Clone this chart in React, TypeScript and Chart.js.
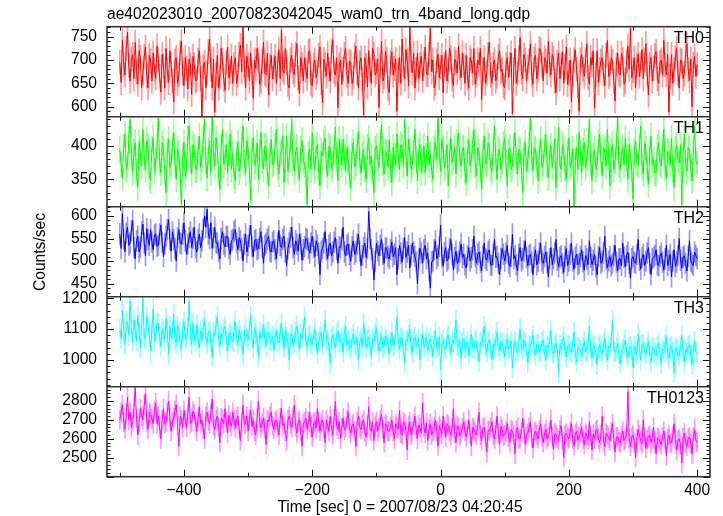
import React, { useEffect, useRef } from "react";
import { Chart, registerables } from "chart.js";

Chart.register(...registerables);

// Time grid of the light curve (seconds from 2007/08/23 04:20:45)
const T_START = -500;
const T_BIN = 2;

// Count rates (counts/sec), one row per 60 s
const TH0 = [
  695,652,742,690,668,725,760,688,655,702,712,660,738,675,648,720,705,640,672,708,728,665,640,710,698,655,715,680,662,730,
  700,665,631,712,688,640,725,678,652,720,690,655,610,698,705,650,668,715,740,672,645,705,682,638,702,690,626,708,690,655,
  658,700,720,660,578,685,695,640,672,718,745,680,640,702,588,668,710,640,662,725,700,658,635,695,728,662,675,708,650,690,
  705,650,668,712,732,675,770,690,640,708,690,655,715,672,618,700,682,725,700,648,655,698,738,672,668,715,625,688,710,660,
  685,708,650,690,722,660,765,680,672,725,695,648,640,700,710,675,668,712,735,662,628,705,690,655,705,678,660,718,720,650,
  645,690,700,662,675,710,728,652,608,702,690,665,715,680,655,720,742,675,668,705,598,690,700,648,680,712,725,668,650,698,
  695,650,662,710,730,672,640,695,705,660,582,705,688,642,720,680,650,725,712,668,675,702,598,688,740,655,665,718,700,640,
  630,695,718,668,682,702,590,678,705,650,745,690,660,722,698,645,770,700,672,715,640,680,715,660,690,708,655,692,728,670,
  668,712,768,675,700,640,650,698,712,662,685,710,630,690,720,655,678,725,705,660,645,702,695,672,730,685,662,715,688,650,
  710,662,640,705,698,672,725,648,668,700,690,725,615,680,705,650,672,712,738,668,650,690,700,655,665,708,720,675,680,645,
  640,690,705,662,690,715,585,680,725,650,672,705,748,675,660,712,700,655,685,698,735,668,648,702,710,660,678,725,722,690,
  655,705,698,672,740,690,668,712,705,655,630,695,715,660,688,718,650,685,728,648,672,700,610,668,700,722,680,645,590,700,
  712,680,665,700,735,662,648,705,690,720,598,668,720,652,680,698,705,670,645,710,742,665,670,705,698,655,612,690,715,672,
  668,715,700,648,655,698,730,680,768,662,678,705,640,690,712,665,690,722,660,700,735,672,625,690,705,655,682,710,718,660,
  650,695,700,668,742,690,668,712,588,665,712,650,680,705,725,672,640,700,698,660,670,712,735,680,655,702,600,690,708,665,
  690,
];
const TH1 = [
  395,372,352,398,418,365,372,410,440,385,360,392,405,360,338,405,390,370,425,382,365,408,400,355,348,395,412,362,378,400,
  442,375,360,405,395,362,330,392,410,368,375,400,420,372,350,395,388,360,312,385,405,355,370,412,430,380,358,402,398,365,
  365,395,415,368,380,410,440,378,352,392,408,360,443,388,370,412,395,358,335,398,425,372,382,402,360,390,418,365,390,355,
  348,388,405,362,372,402,430,375,360,408,395,365,318,392,412,370,378,405,350,390,420,378,366,400,398,362,340,385,410,372,
  375,400,425,370,358,388,392,415,345,380,415,362,380,402,440,375,362,392,398,368,350,395,408,380,372,358,312,388,395,365,
  420,378,365,395,402,360,340,392,385,405,412,372,355,400,398,365,372,395,428,380,348,410,390,372,410,385,362,398,380,355,
  338,392,405,368,375,400,422,378,360,385,395,365,350,398,412,372,385,360,330,395,400,380,368,405,432,375,358,392,390,368,
  410,365,345,398,385,372,418,385,365,402,398,370,440,388,355,410,392,365,372,395,425,380,348,392,402,360,378,400,360,385,
  415,372,388,365,350,395,405,380,443,392,362,410,395,368,375,402,340,388,412,375,385,398,358,405,420,382,370,395,398,362,
  345,392,408,370,380,402,425,372,355,398,390,365,335,388,415,375,372,405,400,368,362,392,430,385,350,395,392,365,378,402,
  412,375,340,392,398,365,370,400,420,378,358,395,392,370,330,388,405,362,380,402,442,385,362,398,395,372,348,390,410,368,
  375,398,418,372,352,388,400,368,385,410,338,385,428,372,365,402,395,365,350,390,412,368,375,395,310,378,398,365,420,388,
  360,392,405,368,382,400,440,375,348,385,395,365,372,405,418,380,355,398,390,370,425,385,340,392,402,365,378,402,443,372,
  365,388,398,372,412,380,350,402,385,365,320,392,408,375,372,398,430,370,358,405,395,368,342,390,415,372,380,360,360,398,
  405,375,370,398,425,368,352,392,390,372,412,365,338,395,400,380,375,402,312,385,418,372,362,398,395,368,348,390,430,378,
  372,
];
const TH2 = [
  560,528,605,550,520,562,575,535,540,568,590,530,505,545,555,520,530,565,582,540,512,572,548,535,570,542,525,558,560,532,
  535,560,580,542,510,538,555,570,592,548,522,565,548,528,500,552,570,540,538,560,585,545,515,538,552,565,530,550,575,530,
  520,548,560,530,545,570,600,575,615,560,550,585,528,552,575,540,540,522,505,550,565,538,532,555,555,528,515,545,548,565,
  570,540,525,552,545,528,500,538,560,520,535,555,580,532,510,545,548,525,528,550,565,530,495,535,540,548,555,522,520,542,
  545,525,505,540,568,535,530,548,555,520,490,528,540,552,575,530,515,545,538,522,560,538,502,525,532,550,548,528,518,540,
  555,530,510,545,535,518,470,522,528,540,565,525,505,535,540,512,520,542,552,525,495,532,530,548,575,520,512,535,538,515,
  500,532,545,515,520,538,560,522,490,512,530,540,508,528,610,550,525,505,458,500,540,522,512,535,548,515,495,530,528,510,
  505,525,542,510,515,530,470,505,535,518,498,528,552,508,520,535,485,512,540,520,510,498,450,505,528,518,495,525,535,505,
  518,480,440,498,500,525,545,505,512,532,580,510,490,518,530,500,505,528,548,515,480,508,522,495,500,520,538,508,515,492,
  485,512,530,500,508,525,555,510,495,515,520,498,478,512,540,505,502,520,525,492,490,515,548,508,510,495,470,505,528,515,
  500,518,535,495,488,510,560,505,512,492,478,515,530,500,505,522,545,508,490,512,515,498,470,508,525,492,500,518,540,500,
  495,510,520,498,465,505,530,492,505,518,548,502,488,508,512,495,475,510,528,490,500,515,540,500,482,508,515,492,495,510,
  525,498,480,512,505,492,545,508,492,502,515,488,470,510,530,495,500,518,555,505,485,500,510,490,495,512,535,498,478,505,
  505,490,540,508,488,512,520,495,462,505,510,498,495,515,548,502,482,508,515,490,500,518,530,495,470,505,508,512,525,492,
  490,510,518,498,480,505,535,490,502,515,465,500,525,488,498,512,550,502,485,508,512,495,478,510,545,500,495,490,520,512,
  505,
];
const TH3 = [
  1100,1070,1160,1095,1050,1125,1120,1080,1190,1105,1060,1130,1095,1062,1145,1090,1040,1115,1200,1068,1075,1140,1110,1075,1030,1098,1165,1060,1085,1120,
  1120,1072,1045,1100,1090,1065,1135,1088,1020,1110,1070,1095,1150,1068,1055,1112,1095,1058,1035,1098,1125,1075,1065,1105,1190,1082,1050,1118,1080,1060,
  1115,1068,1040,1095,1070,1105,1130,1072,1055,1088,1095,1060,1010,1092,1080,1115,1140,1070,1045,1085,1075,1100,1110,1062,1030,1082,1090,1070,1060,1098,
  1125,1075,1050,1098,1080,1062,1020,1085,1100,1072,1065,1095,1145,1068,1040,1105,1085,1058,1010,1090,1070,1080,1115,1070,1045,1092,1090,1065,1060,1078,
  1030,1070,1095,1062,1055,1088,1120,1065,1040,1095,1075,1058,1000,1080,1085,1050,1060,1092,1110,1068,1035,1085,1070,1098,1140,1062,1045,1075,1080,1055,
  1050,1078,1100,1062,1020,1058,1075,1090,1045,1082,1130,1065,1060,1045,990,1070,1080,1055,1040,1085,1095,1060,1055,1072,1025,1088,1110,1050,1065,1042,
  1035,1068,1085,1052,1050,1075,1000,1060,1070,1045,1120,1080,1040,1065,1075,1048,1010,1070,1060,1085,1105,1055,1030,1062,1080,1040,1045,1078,1065,1050,
  1020,1062,1090,1045,1050,1080,1140,1058,1035,1072,1070,1040,990,1065,1060,1082,1100,1048,1025,1068,1075,1052,1045,1070,1000,1058,1085,1042,1055,1075,
  1030,1055,1070,1045,1010,1062,1095,1040,1045,1075,970,1052,1065,1040,1035,1068,1080,1050,1020,1062,1055,1078,1130,1048,1040,1065,1005,1055,1070,1038,
  1045,1060,1015,1048,1085,1040,1035,1065,1060,1030,995,1058,1050,1072,1110,1045,1025,1058,1065,1035,1000,1052,1040,1065,1090,1042,1030,1060,1055,1038,
  1010,1050,1070,1035,1040,1062,975,1042,1060,1030,1025,1055,1100,1040,1035,1065,1055,1028,990,1048,1045,1060,1080,1035,1015,1052,1050,1028,1030,1058,
  1065,1030,1000,1048,1040,1060,1095,1025,1020,1045,1055,1032,960,1050,1035,1058,1075,1028,1010,1045,1050,1032,1025,1055,1090,1020,995,1042,1040,1030,
  1015,1042,1060,1028,1030,1050,1110,1035,1005,1048,1045,1022,985,1040,1050,1030,1020,1052,1070,1025,1000,1045,1040,1062,1130,1030,1025,1040,1055,1020,
  990,1028,1035,1050,1065,1022,1010,1040,1045,1030,975,1045,1030,1018,1085,1035,1000,1052,1050,1025,1020,1040,1060,1018,995,1038,1040,1022,1015,1045,
  1055,1022,990,1035,1030,1048,1075,1020,1005,1038,1045,1025,960,1042,1035,1015,1015,1040,1080,1028,995,1035,1025,1045,1050,1018,985,1032,1060,1025,
  1020,
];
const TH0123 = [
  2700,2740,2780,2690,2650,2735,2820,2700,2740,2660,2690,2760,2870,2710,2620,2680,2760,2720,2700,2780,2840,2690,2650,2740,2730,2705,2680,2750,2790,2680,
  2720,2660,2600,2700,2760,2680,2690,2740,2800,2710,2640,2690,2710,2750,2780,2670,2560,2720,2700,2660,2750,2700,2660,2730,2820,2680,2690,2745,2730,2690,
  2640,2710,2770,2680,2700,2650,2600,2720,2740,2695,2680,2740,2810,2670,2650,2700,2720,2660,2580,2710,2700,2680,2760,2690,2630,2725,2690,2665,2740,2700,
  2660,2700,2720,2650,2590,2690,2780,2675,2680,2720,2640,2705,2750,2665,2700,2640,2620,2710,2800,2690,2660,2680,2710,2655,2570,2700,2690,2720,2740,2670,
  2650,2690,2700,2660,2620,2710,2760,2670,2680,2640,2590,2700,2720,2680,2660,2715,2780,2665,2630,2690,2700,2640,2560,2680,2690,2710,2650,2695,2740,2660,
  2610,2680,2690,2655,2760,2690,2640,2680,2700,2650,2580,2700,2670,2640,2720,2660,2620,2705,2800,2670,2650,2690,2600,2660,2710,2645,2660,2700,2740,2655,
  2630,2670,2680,2640,2560,2690,2720,2660,2650,2680,2700,2635,2610,2675,2770,2650,2640,2690,2590,2665,2690,2640,2660,2700,2730,2650,2580,2680,2670,2640,
  2640,2665,2700,2640,2600,2680,2660,2650,2750,2630,2620,2690,2680,2645,2540,2670,2690,2620,2640,2680,2720,2650,2600,2675,2660,2630,2790,2660,2630,2685,
  2590,2650,2680,2620,2640,2665,2700,2640,2560,2670,2650,2625,2720,2660,2610,2680,2670,2640,2620,2655,2760,2630,2580,2670,2660,2615,2630,2660,2690,2640,
  2610,2650,2700,2625,2560,2660,2650,2635,2620,2670,2740,2620,2590,2655,2660,2610,2530,2645,2640,2660,2690,2620,2600,2650,2720,2630,2570,2665,2650,2615,
  2620,2640,2680,2610,2580,2650,2640,2620,2520,2645,2660,2600,2600,2635,2710,2650,2570,2615,2630,2660,2690,2605,2550,2630,2640,2620,2600,2645,2680,2610,
  2580,2625,2650,2600,2610,2640,2700,2610,2540,2630,2620,2605,2590,2645,2670,2595,2500,2620,2630,2610,2600,2640,2680,2600,2560,2625,2640,2595,2610,2630,
  2660,2600,2570,2630,2620,2595,2690,2615,2540,2625,2600,2640,2650,2600,2580,2620,2720,2590,2560,2630,2620,2605,2590,2635,2680,2595,2530,2610,2610,2585,
  2580,2615,2640,2590,2600,2625,2850,2600,2560,2610,2620,2580,2500,2600,2650,2620,2590,2575,2700,2610,2550,2595,2610,2620,2580,2600,2660,2580,2520,2605,
  2600,2585,2570,2610,2640,2590,2510,2600,2620,2575,2580,2615,2680,2595,2540,2590,2600,2570,2470,2605,2630,2580,2560,2600,2610,2575,2520,2610,2650,2590,
  2580,
];

const SERIES = [TH0, TH1, TH2, TH3, TH0123];
const PANEL_NAMES = ["TH0", "TH1", "TH2", "TH3", "TH0123"];
const PANEL_COLORS = ["#ff0000", "#00ff00", "#0000ff", "#00ffff", "#ff00ff"];
const PANEL_ERR_COLORS = [
  "rgba(255,0,0,0.4)",
  "rgba(0,255,0,0.4)",
  "rgba(0,0,255,0.4)",
  "rgba(0,255,255,0.4)",
  "rgba(255,0,255,0.4)",
];
const PANEL_ERR = [26, 19.5, 23, 32, 51];
const PANEL_MIN = [578.5, 309, 421, 914, 2399];
const PANEL_MAX = [771.5, 444, 620.6, 1205, 2876];
const Y_TICKS = [
  [600, 650, 700, 750],
  [350, 400],
  [450, 500, 550, 600],
  [1000, 1100, 1200],
  [2500, 2600, 2700, 2800],
];
const Y_MAJOR_STEP = [50, 50, 50, 100, 100];
const Y_MINOR_STEP = [10, 10, 10, 20, 20];
const X_MIN = -520;
const X_MAX = 420;
const X_TICKS = [-400, -200, 0, 200, 400];
const X_MINOR = [-500, -300, -100, 100, 300];

const TITLE = "ae402023010_20070823042045_wam0_trn_4band_long.qdp";
const X_TITLE = "Time [sec] 0 = 2007/08/23 04:20:45";
const Y_TITLE = "Counts/sec";

const FONT_FAMILY = '"Liberation Sans", Arial, Helvetica, sans-serif';
const TICK_FONT = { family: FONT_FAMILY, size: 15.6 };

const W = 723;
const H = 516;
const AREA_LEFT = 107;
const AREA_RIGHT = 710;
const AREA_TOP = 26.7;
const AREA_BOTTOM = 476.7;

const fmtX = (v: number) => (v < 0 ? "\u2212" + Math.abs(v) : String(v));

const panelPlugin = {
  id: "panelFrames",
  beforeDatasetDraw(chart: any, args: any) {
    const ys = chart.scales[args.meta.yAxisID];
    const a = chart.chartArea;
    const ctx = chart.ctx;
    ctx.save();
    ctx.beginPath();
    ctx.rect(a.left, ys.top, a.right - a.left, ys.bottom - ys.top);
    ctx.clip();
  },
  afterDatasetDraw(chart: any) {
    chart.ctx.restore();
  },
  afterDraw(chart: any) {
    const ctx = chart.ctx;
    const a = chart.chartArea;
    const xs = chart.scales.x;
    ctx.save();
    ctx.strokeStyle = "#111";
    ctx.lineWidth = 1;
    SERIES.forEach((_, k) => {
      const ys = chart.scales["y" + k];
      const step = Y_MINOR_STEP[k];
      const start = Math.ceil(PANEL_MIN[k] / step) * step;
      ctx.beginPath();
      for (let v = start; v <= PANEL_MAX[k]; v += step) {
        const p = Math.round(ys.getPixelForValue(v)) + 0.5;
        const len = v % Y_MAJOR_STEP[k] === 0 ? 7 : 3.5;
        ctx.moveTo(a.left, p);
        ctx.lineTo(a.left + len, p);
        ctx.moveTo(a.right, p);
        ctx.lineTo(a.right - len, p);
      }
      const xt = [...X_TICKS.map((v) => [v, 7]), ...X_MINOR.map((v) => [v, 4])];
      xt.forEach(([v, len]) => {
        const px = Math.round(xs.getPixelForValue(v)) + 0.5;
        ctx.moveTo(px, ys.top);
        ctx.lineTo(px, ys.top + len);
        ctx.moveTo(px, ys.bottom);
        ctx.lineTo(px, ys.bottom - len);
      });
      ctx.stroke();
    });
    ctx.strokeStyle = "#333";
    ctx.lineWidth = 1.6;
    ctx.strokeRect(a.left, a.top, a.right - a.left, a.bottom - a.top);
    ctx.beginPath();
    SERIES.forEach((_, k) => {
      if (k === SERIES.length - 1) return;
      const ys = chart.scales["y" + k];
      ctx.moveTo(a.left, ys.bottom);
      ctx.lineTo(a.right, ys.bottom);
    });
    ctx.stroke();
    ctx.restore();
  },
};

export default function App() {
  const canvasRef = useRef<HTMLCanvasElement | null>(null);

  useEffect(() => {
    const canvas = canvasRef.current;
    if (!canvas) return;

    const datasets: any[] = [];
    const yScales: any = {};
    SERIES.forEach((vals, k) => {
      const times = vals.map((_, i) => T_START + i * T_BIN);
      datasets.push({
        type: "line",
        data: vals.map((v, i) => ({ x: times[i], y: v })),
        yAxisID: "y" + k,
        borderColor: PANEL_COLORS[k],
        borderWidth: 1,
        pointRadius: 0,
        tension: 0,
        fill: false,
        order: 0,
      });
      datasets.push({
        type: "bar",
        data: vals.map((v, i) => ({ x: times[i], y: [v - PANEL_ERR[k], v + PANEL_ERR[k]] })),
        yAxisID: "y" + k,
        backgroundColor: PANEL_ERR_COLORS[k],
        borderWidth: 0,
        barThickness: 1,
        grouped: false,
        order: 1,
      });
      yScales["y" + k] = {
        type: "linear",
        position: "left",
        stack: "panels",
        stackWeight: 1,
        weight: SERIES.length - k,
        offset: false,
        min: PANEL_MIN[k],
        max: PANEL_MAX[k],
        grid: { display: false, drawTicks: false, offset: false },
        border: { display: false },
        ticks: {
          color: "#000",
          font: TICK_FONT,
          padding: 10,
          autoSkip: false,
          callback: (v: any) => String(v),
        },
        afterBuildTicks: (s: any) => {
          s.ticks = Y_TICKS[k].map((v) => ({ value: v }));
        },
        afterFit: (s: any) => {
          s.width = AREA_LEFT;
          s.paddingTop = 0;
          s.paddingBottom = 0;
        },
      };
    });

    const chart = new Chart(canvas, {
      type: "line",
      data: { datasets },
      options: {
        responsive: false,
        maintainAspectRatio: false,
        devicePixelRatio: 1,
        animation: false,
        events: [],
        layout: { padding: { top: AREA_TOP, right: W - AREA_RIGHT, left: 0, bottom: 0 } },
        plugins: { legend: { display: false }, tooltip: { enabled: false }, title: { display: false } },
        scales: {
          x: {
            type: "linear",
            position: "bottom",
            offset: false,
            min: X_MIN,
            max: X_MAX,
            grid: { display: false, drawTicks: false, offset: false },
            border: { display: false },
            ticks: {
              color: "#000",
              font: TICK_FONT,
              padding: 5,
              autoSkip: false,
              maxRotation: 0,
              callback: (v: any) => fmtX(Number(v)),
            },
            afterBuildTicks: (s: any) => {
              s.ticks = X_TICKS.map((v) => ({ value: v }));
            },
            afterFit: (s: any) => {
              s.height = H - AREA_BOTTOM;
              s.paddingLeft = 0;
              s.paddingRight = 0;
            },
          },
          ...yScales,
        },
      } as any,
      plugins: [panelPlugin],
    });
    return () => chart.destroy();
  }, []);

  const panelTop = (k: number) => AREA_TOP + ((AREA_BOTTOM - AREA_TOP) / SERIES.length) * k;
  const textBase: React.CSSProperties = {
    position: "absolute",
    fontFamily: FONT_FAMILY,
    fontSize: "15.6px",
    lineHeight: "16px",
    color: "#000",
    whiteSpace: "nowrap",
  };

  return (
    <div style={{ position: "fixed", left: 0, top: 0, width: W, height: H, background: "#fff", overflow: "hidden" }}>
      <canvas ref={canvasRef} width={W} height={H} style={{ display: "block", width: W, height: H }} />
      <div style={{ ...textBase, left: AREA_LEFT, top: 6 }}>{TITLE}</div>
      <div style={{ ...textBase, left: 400, top: 498.5, transform: "translateX(-50%)" }}>{X_TITLE}</div>
      <div
        style={{
          ...textBase,
          left: 40,
          top: 252,
          transform: "translate(-50%, -50%) rotate(-90deg)",
        }}
      >
        {Y_TITLE}
      </div>
      {PANEL_NAMES.map((name, k) => (
        <div
          key={name}
          style={{ ...textBase, fontSize: "16px", left: 560, width: 144, textAlign: "right", top: panelTop(k) + 2.8 }}
        >
          {name}
        </div>
      ))}
    </div>
  );
}
